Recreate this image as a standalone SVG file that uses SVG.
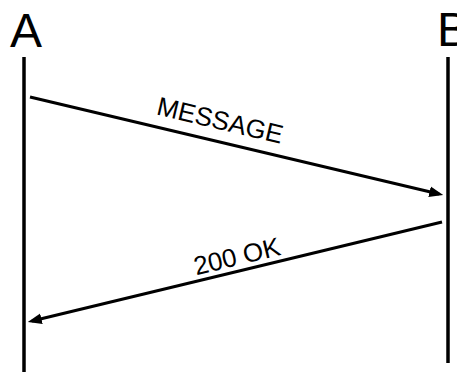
<svg xmlns="http://www.w3.org/2000/svg" width="457" height="372" viewBox="0 0 457 372">
<style>
.lbl{font-family:"Liberation Sans",Arial,sans-serif;fill:#000}
.life{stroke:#000;stroke-width:3.5;fill:none}
.msg{stroke:#000;stroke-width:3;fill:none}
</style>
<defs>
<marker id="ah" markerUnits="userSpaceOnUse" markerWidth="14" markerHeight="12" refX="9" refY="5" orient="auto" viewBox="0 0 13 10">
<path d="M0,0 L13,5 L0,10 z" fill="#000"/>
</marker>
</defs>
<g id="A">
<text class="lbl" x="10" y="47" font-size="48">A</text>
<line class="life" x1="24" y1="57" x2="24" y2="372"/>
</g>
<g id="B">
<text class="lbl" x="437" y="46" font-size="48">B</text>
<line class="life" x1="448" y1="57" x2="448" y2="363"/>
</g>
<g id="connectors">
<line class="msg" x1="30" y1="97" x2="439" y2="194" marker-end="url(#ah)"/>
<text class="lbl" x="218" y="129" font-size="26" text-anchor="middle" transform="rotate(13.3 218 129)">MESSAGE</text>
<line class="msg" x1="442" y1="222" x2="32" y2="321" marker-end="url(#ah)"/>
<text class="lbl" x="239" y="265" font-size="26" text-anchor="middle" transform="rotate(-13.6 239 265)">200 OK</text>
</g>
</svg>
